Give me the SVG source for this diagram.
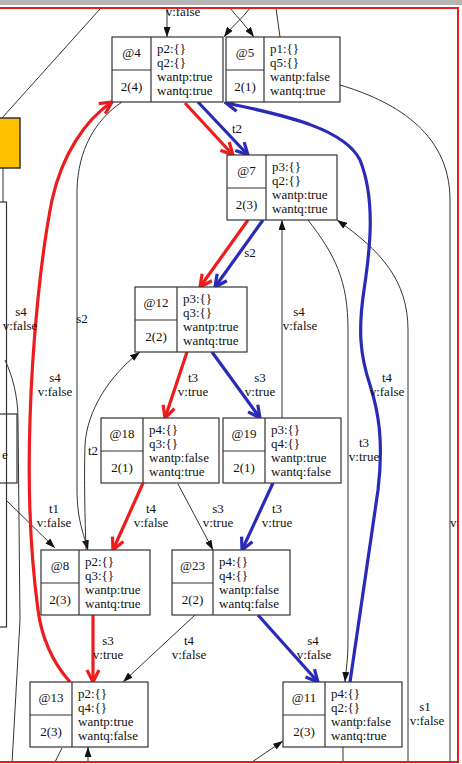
<svg xmlns="http://www.w3.org/2000/svg" width="462" height="764" viewBox="0 0 462 764">
<style>
.box{fill:#fff;stroke:#333;stroke-width:1.2}
.sep{fill:none;stroke:#333;stroke-width:1.2}
.t{font-family:"Liberation Serif","Times New Roman",serif;font-size:13px;fill:#111}
.c{text-anchor:middle}
.e{fill:none;stroke:#333;stroke-width:1}
.r{fill:none;stroke:#ee1c1c;stroke-width:3.2}
.b{fill:none;stroke:#2a2ab8;stroke-width:3.2}
.ea{marker-end:url(#ak)}
.ra{marker-end:url(#ar)}
.ba{marker-end:url(#ab)}
</style>
<defs>
<marker id="ak" markerUnits="userSpaceOnUse" viewBox="0 0 10 7" markerWidth="10" markerHeight="7" refX="10" refY="3.5" orient="auto"><path d="M0,0L10,3.5L0,7z" fill="#111"/></marker>
<marker id="ar" markerUnits="userSpaceOnUse" viewBox="-2 -2 16 16" markerWidth="16" markerHeight="16" refX="12" refY="6" orient="auto"><path d="M0,0L12,6L0,12" fill="none" stroke="#ee1c1c" stroke-width="3.2"/></marker>
<marker id="ab" markerUnits="userSpaceOnUse" viewBox="-2 -2 16 16" markerWidth="16" markerHeight="16" refX="12" refY="6" orient="auto"><path d="M0,0L12,6L0,12" fill="none" stroke="#2a2ab8" stroke-width="3.2"/></marker>
<clipPath id="fr"><rect x="0" y="9" width="457" height="753"/></clipPath>
</defs>
<rect x="0" y="0" width="462" height="764" fill="#fff"/>
<rect x="0" y="0" width="462" height="5" fill="#b4b4b4"/>
<g clip-path="url(#fr)">
<g id="outside">
<rect x="-3" y="118" width="23" height="50" fill="#ffc000" stroke="#333" stroke-width="1.5"/>
<rect x="-3" y="202" width="9.5" height="425" fill="none" stroke="#333" stroke-width="1.2"/>
<rect x="-3" y="414" width="20" height="69" fill="none" stroke="#333" stroke-width="1.2"/>
<text class="t" x="2" y="459">e</text>
</g>
<g id="connectors">
<path class="e" d="M100,9L2,118"/>
<path class="e" d="M3,168L3,202"/>
<path class="e ea" d="M167,9L167,37"/>
<path class="e ea" d="M230,8C238,18 246,26 254,37"/>
<path class="e ea" d="M250,8C243,18 232,26 224,37"/>
<path class="e" d="M276,8L280,37"/>
<path class="e" d="M340,85C390,100 450,130 450,200L450,764"/>
<path class="e" d="M5,360C12,375 18,395 18,420L20,620L12,764"/>
<path class="e ea" d="M6,500L55,548"/>
<path class="e ea" d="M122,102C95,120 78,150 77,190L77,490C77,520 84,535 88,550"/>
<path class="e ea" d="M86,550C85,520 84,480 85,445C87,410 110,375 140,352"/>
<path class="r ra" d="M70,682C55,665 42,640 38,610C30,550 28,480 30,420C32,350 40,260 52,200C62,155 85,120 112,102"/>
<path class="r ra" d="M185,103L233,155"/>
<path class="b ba" d="M198,102L248,155"/>
<path class="b ba" d="M350,682C356,640 368,560 378,490C384,440 378,410 370,385C360,355 358,330 364,290C370,250 376,200 360,160C345,130 290,116 226,103"/>
<path class="r ra" d="M248,220L200,287"/>
<path class="b ba" d="M263,220L215,287"/>
<path class="e ea" d="M282,418L282,220"/>
<path class="e ea" d="M308,220C335,255 348,280 348,330L348,640C348,660 346,670 345,682"/>
<path class="e ea" d="M408,764L408,330C408,280 380,250 337,220"/>
<path class="r ra" d="M187,352L165,418"/>
<path class="b ba" d="M212,352L260,418"/>
<path class="r ra" d="M143,483L113,550"/>
<path class="e ea" d="M178,484L213,550"/>
<path class="b ba" d="M273,483L242,550"/>
<path class="r ra" d="M93,615L93,682"/>
<path class="e ea" d="M195,615L123,682"/>
<path class="b ba" d="M258,615L318,682"/>
<path class="e" d="M62,748L54,764"/>
<path class="e ea" d="M88,764L88,747"/>
<path class="e ea" d="M252,762L283,741"/>
<path class="e" d="M343,747L343,764"/>
</g>
<g id="labels">
<text class="t c" x="183" y="16">v:false</text>
<text class="t c" x="237" y="133">t2</text>
<text class="t c" x="250" y="257">s2</text>
<text class="t c" x="21" y="316">s4</text><text class="t c" x="20" y="330">v:false</text>
<text class="t c" x="82" y="323">s2</text>
<text class="t c" x="55" y="382">s4</text><text class="t c" x="55" y="396">v:false</text>
<text class="t c" x="193" y="382">t3</text><text class="t c" x="193" y="396">v:true</text>
<text class="t c" x="260" y="382">s3</text><text class="t c" x="260" y="396">v:true</text>
<text class="t c" x="299" y="316">s4</text><text class="t c" x="300" y="330">v:false</text>
<text class="t c" x="387" y="382">t4</text><text class="t c" x="387" y="396">v:false</text>
<text class="t c" x="364" y="447">t3</text><text class="t c" x="364" y="461">v:true</text>
<text class="t c" x="93" y="455">t2</text>
<text class="t c" x="54" y="513">t1</text><text class="t c" x="54" y="527">v:false</text>
<text class="t c" x="151" y="513">t4</text><text class="t c" x="151" y="527">v:false</text>
<text class="t c" x="218" y="513">s3</text><text class="t c" x="218" y="527">v:true</text>
<text class="t c" x="277" y="513">t3</text><text class="t c" x="277" y="527">v:true</text>
<text class="t" x="450" y="527">v</text>
<text class="t c" x="108" y="645">s3</text><text class="t c" x="108" y="659">v:true</text>
<text class="t c" x="189" y="645">t4</text><text class="t c" x="189" y="659">v:false</text>
<text class="t c" x="313" y="645">s4</text><text class="t c" x="314" y="659">v:false</text>
<text class="t c" x="425" y="711">s1</text><text class="t c" x="427" y="725">v:false</text>
</g>
<g id="n4"><rect class="box" x="112" y="37" width="111" height="65"/><path class="sep" d="M151,37V102M112,70H151"/><text class="t c" x="131.5" y="57">@4</text><text class="t c" x="131.5" y="91">2(4)</text><text class="t" x="157" y="53">p2:{}</text><text class="t" x="157" y="67">q2:{}</text><text class="t" x="157" y="81">wantp:true</text><text class="t" x="157" y="95">wantq:true</text></g>
<g id="n5"><rect class="box" x="226" y="37" width="114" height="65"/><path class="sep" d="M264,37V102M226,70H264"/><text class="t c" x="245" y="57">@5</text><text class="t c" x="245" y="91">2(1)</text><text class="t" x="270" y="53">p1:{}</text><text class="t" x="270" y="67">q5:{}</text><text class="t" x="270" y="81">wantp:false</text><text class="t" x="270" y="95">wantq:true</text></g>
<g id="n7"><rect class="box" x="227" y="155" width="110" height="65"/><path class="sep" d="M266,155V220M227,188H266"/><text class="t c" x="246.5" y="175">@7</text><text class="t c" x="246.5" y="209">2(3)</text><text class="t" x="272" y="171">p3:{}</text><text class="t" x="272" y="185">q2:{}</text><text class="t" x="272" y="199">wantp:true</text><text class="t" x="272" y="213">wantq:true</text></g>
<g id="n12"><rect class="box" x="135" y="287" width="112" height="65"/><path class="sep" d="M177,287V352M135,320H177"/><text class="t c" x="156" y="307">@12</text><text class="t c" x="156" y="341">2(2)</text><text class="t" x="183" y="303">p3:{}</text><text class="t" x="183" y="317">q3:{}</text><text class="t" x="183" y="331">wantp:true</text><text class="t" x="183" y="345">wantq:true</text></g>
<g id="n18"><rect class="box" x="101" y="418" width="118" height="65"/><path class="sep" d="M143,418V483M101,451H143"/><text class="t c" x="122" y="438">@18</text><text class="t c" x="122" y="472">2(1)</text><text class="t" x="149" y="434">p4:{}</text><text class="t" x="149" y="448">q3:{}</text><text class="t" x="149" y="462">wantp:false</text><text class="t" x="149" y="476">wantq:true</text></g>
<g id="n19"><rect class="box" x="223" y="418" width="118" height="65"/><path class="sep" d="M265,418V483M223,451H265"/><text class="t c" x="244" y="438">@19</text><text class="t c" x="244" y="472">2(1)</text><text class="t" x="271" y="434">p3:{}</text><text class="t" x="271" y="448">q4:{}</text><text class="t" x="271" y="462">wantp:true</text><text class="t" x="271" y="476">wantq:false</text></g>
<g id="n8"><rect class="box" x="41" y="550" width="109" height="65"/><path class="sep" d="M79,550V615M41,583H79"/><text class="t c" x="60" y="570">@8</text><text class="t c" x="60" y="604">2(3)</text><text class="t" x="85" y="566">p2:{}</text><text class="t" x="85" y="580">q3:{}</text><text class="t" x="85" y="594">wantp:true</text><text class="t" x="85" y="608">wantq:true</text></g>
<g id="n23"><rect class="box" x="172" y="550" width="118" height="65"/><path class="sep" d="M213,550V615M172,583H213"/><text class="t c" x="192.5" y="570">@23</text><text class="t c" x="192.5" y="604">2(2)</text><text class="t" x="219" y="566">p4:{}</text><text class="t" x="219" y="580">q4:{}</text><text class="t" x="219" y="594">wantp:false</text><text class="t" x="219" y="608">wantq:false</text></g>
<g id="n13"><rect class="box" x="30" y="682" width="118" height="65"/><path class="sep" d="M72,682V747M30,715H72"/><text class="t c" x="51" y="702">@13</text><text class="t c" x="51" y="736">2(3)</text><text class="t" x="78" y="698">p2:{}</text><text class="t" x="78" y="712">q4:{}</text><text class="t" x="78" y="726">wantp:true</text><text class="t" x="78" y="740">wantq:false</text></g>
<g id="n11"><rect class="box" x="283" y="682" width="119" height="65"/><path class="sep" d="M325,682V747M283,715H325"/><text class="t c" x="304" y="702">@11</text><text class="t c" x="304" y="736">2(3)</text><text class="t" x="331" y="698">p4:{}</text><text class="t" x="331" y="712">q2:{}</text><text class="t" x="331" y="726">wantp:false</text><text class="t" x="331" y="740">wantq:true</text></g>
</g>
<rect x="-5" y="8" width="463" height="754" fill="none" stroke="#e51f1f" stroke-width="2"/>
</svg>
